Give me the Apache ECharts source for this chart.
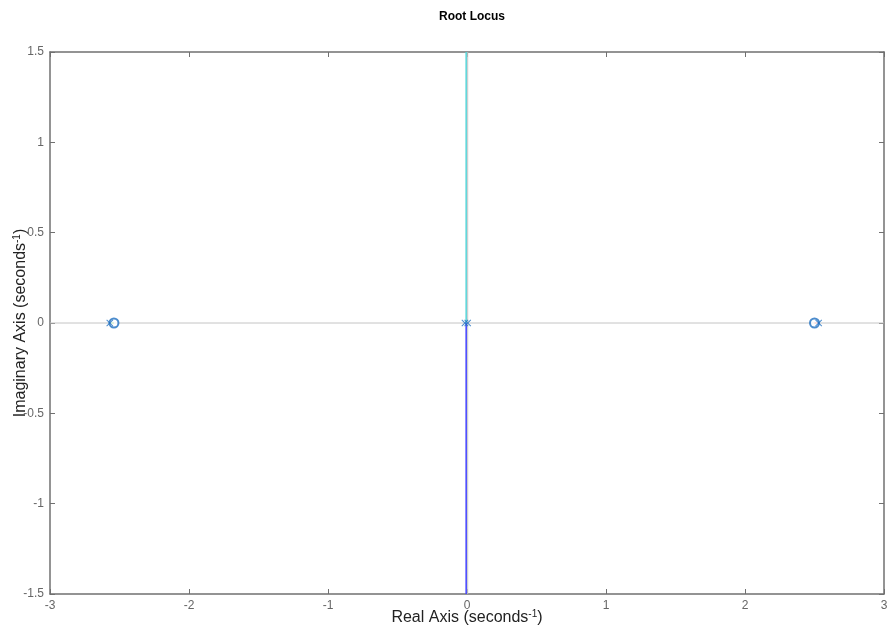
<!DOCTYPE html>
<html><head><meta charset="utf-8">
<script src="https://cdn.jsdelivr.net/npm/echarts@6/dist/echarts.min.js"></script>
<style>html,body{margin:0;padding:0;background:#fff}#c{width:893px;height:631px}</style>
</head><body><div id="c"></div>
<script>
const xTicks = [-3, -2, -1, 0, 1, 2, 3];
const yTicks = [-1.5, -1, -0.5, 0, 0.5, 1, 1.5];
const poles = [[-2.57, 0], [-0.015, 0], [0.005, 0], [2.53, 0]];
const zeros = [[-2.54, 0], [2.50, 0]];
const branchUp = [[-0.006, 0], [-0.006, 1.5]];
const branchDown = [[-0.006, 0], [-0.006, -1.5]];
const branchLeft = [[-2.57, 0], [-2.54, 0]];
const branchRight = [[2.53, 0], [2.50, 0]];
const refH = [[-3, 0], [3, 0]];
const refV = [[0.005, -1.5], [0.005, 1.5]];

const chart = echarts.init(document.getElementById('c'));
const font = 'Liberation Sans, Arial, sans-serif';
const axisCommon = {
  axisLine: {show: true, onZero: false, lineStyle: {color: '#707070', width: 1.5}},
  axisTick: {show: true, inside: true, length: 5, lineStyle: {color: '#707070'}},
  splitLine: {show: false}
};
const cross = 'path://M0,1L1,0L5,4L9,0L10,1L6,5L10,9L9,10L5,6L1,10L0,9L4,5Z';
const supRich = {sup: {fontSize: 10, verticalAlign: 'top', lineHeight: 18, padding: [0,0,8,0], color: '#222', fontFamily: font}};
chart.setOption({
  animation: false,
  backgroundColor: '#fff',
  title: {text: 'Root Locus', left: 467, top: 6, textAlign: 'center',
    textStyle: {fontFamily: font, fontSize: 12, fontWeight: 'bold', color: '#000'}},
  grid: {left: 50, right: 9, top: 52, bottom: 37, outerBoundsMode: 'none', containLabel: false},
  xAxis: [
    Object.assign({type: 'value', min: -3, max: 3, interval: 1, position: 'bottom',
      axisLabel: {color: '#666', fontFamily: font, fontSize: 12, margin: 6,
        formatter: v => xTicks.includes(v) ? String(v) : ''},
      name: 'Real Axis (seconds{sup|-1})', nameLocation: 'middle', nameGap: 15, nameMoveOverlap: false,
      nameTextStyle: {fontFamily: font, fontSize: 16, color: '#222', rich: supRich}
    }, axisCommon),
    Object.assign({type: 'value', min: -3, max: 3, interval: 1, position: 'top',
      axisLabel: {show: false}}, axisCommon)
  ],
  yAxis: [
    Object.assign({type: 'value', min: -1.5, max: 1.5, interval: 0.5, position: 'left',
      axisLabel: {color: '#666', fontFamily: font, fontSize: 12, margin: 6,
        formatter: v => yTicks.includes(v) ? String(v) : ''},
      name: 'Imaginary Axis (seconds{sup|-1})', nameLocation: 'middle', nameGap: 20, nameRotate: 90, nameMoveOverlap: false,
      nameTextStyle: {fontFamily: font, fontSize: 16, color: '#222', rich: supRich}
    }, axisCommon),
    Object.assign({type: 'value', min: -1.5, max: 1.5, interval: 0.5, position: 'right',
      axisLabel: {show: false}}, axisCommon)
  ],
  series: [
    {type: 'line', data: refH, symbol: 'none', lineStyle: {color: '#c4c4c4', width: 1}, z: 1},
    {type: 'line', data: refV, symbol: 'none', lineStyle: {color: '#c4c4c4', width: 1}, z: 1},
    {type: 'line', data: branchUp, symbol: 'none', lineStyle: {color: '#55d4d8', width: 1.5}, z: 2},
    {type: 'line', data: branchDown, symbol: 'none', lineStyle: {color: '#4040ff', width: 1.5}, z: 2},
    {type: 'line', data: branchLeft, symbol: 'none', lineStyle: {color: '#30b030', width: 1.5}, z: 2},
    {type: 'line', data: branchRight, symbol: 'none', lineStyle: {color: '#e03030', width: 1.5}, z: 2},
    {type: 'scatter', data: poles, symbol: cross, symbolSize: 7, itemStyle: {color: '#1f6fc0'}, z: 4},
    {type: 'scatter', data: zeros, symbol: 'emptyCircle', symbolSize: 9,
      itemStyle: {color: '#1f6fc0', borderColor: '#1f6fc0', borderWidth: 1.2}, z: 3}
  ]
});
</script></body></html>
